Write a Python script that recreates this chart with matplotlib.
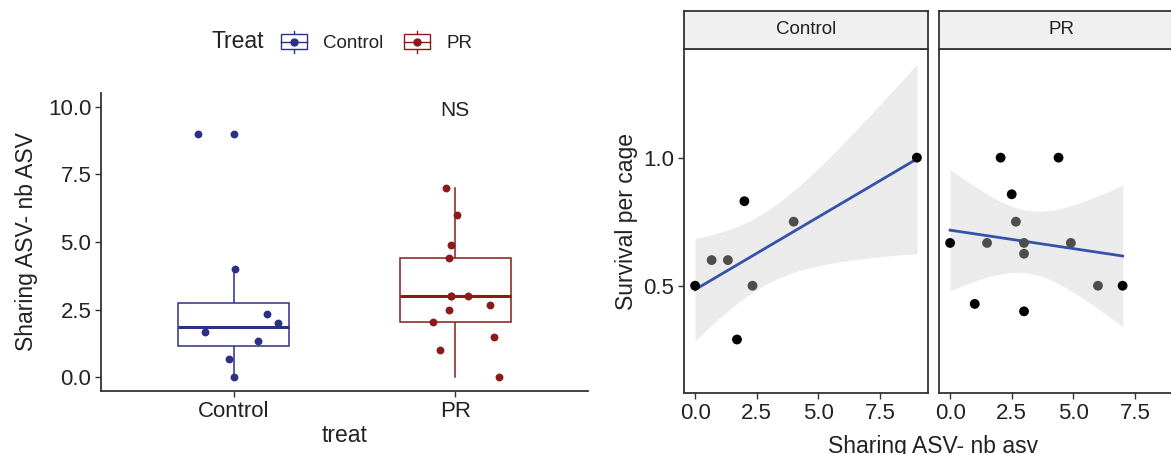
import numpy as np
import matplotlib
matplotlib.use("Agg")
import matplotlib.pyplot as plt
from matplotlib.patches import Patch, Rectangle
from matplotlib.lines import Line2D
from matplotlib.legend_handler import HandlerBase

plt.rcParams['font.family'] = ['Liberation Sans', 'DejaVu Sans']

# ---------- données du panneau gauche (boxplot + points jitter) ----------
groupes = ["Control", "PR"]
couleurs = ["#2D3184", "#8C1A1A"]

sharing_control = [9, 9, 4, 2.33, 2.0, 1.67, 1.33, 0.67, 0]
jitter_control = [-0.163, 0.0, 0.005, 0.15, 0.198, -0.13, 0.11, -0.02, 0.0]
sharing_pr = [7, 6, 4.9, 4.4, 3, 3, 3, 2.67, 2.5, 2.05, 1.5, 1.0, 0]
jitter_pr = [-0.041, 0.007, -0.019, -0.03, -0.021, 0.057, -0.021, 0.156,
             -0.028, -0.102, 0.177, -0.069, 0.197]

# statistiques des boîtes
q1 = [1.15, 2.05]
mediane = [1.85, 3.0]
q3 = [2.73, 4.4]
moust_bas = [0, 0]
moust_haut = [4, 7]

# ---------- données des facettes (survie ~ partage ASV) ----------
ctrl_x = [0, 0.67, 1.33, 1.7, 2.0, 2.33, 4.0, 9.0]
ctrl_y = [0.5, 0.6, 0.6, 0.29, 0.83, 0.5, 0.75, 1.0]
ctrl_noir = [1, 0, 0, 1, 1, 0, 0, 1]
pr_x = [0, 1.0, 1.5, 2.05, 2.5, 2.67, 3, 3, 3, 4.4, 4.9, 6, 7]
pr_y = [0.667, 0.429, 0.667, 1.0, 0.857, 0.75, 0.667, 0.625, 0.4, 1.0, 0.667, 0.5, 0.5]
pr_noir = [1, 1, 0, 1, 1, 0, 0, 0, 1, 1, 0, 0, 1]

t_quant = {6: 2.447, 11: 2.201}  # quantiles de Student à 97.5 %

texte = "#222222"
bord = "#333333"

fig = plt.figure(figsize=(11.71, 4.54), dpi=100)


# ---------- légende : petite boîte à moustache ----------
class CleBoite(HandlerBase):
    def create_artists(self, legend, orig_handle, xd, yd, width, height, fontsize, trans):
        c = orig_handle.get_edgecolor()
        cx = width / 2 - xd
        cy = height / 2 - yd
        h = height * 0.65
        art = [
            Line2D([cx, cx], [cy - height / 2, cy + height / 2], color=c, lw=1, transform=trans),
            Rectangle((-xd, cy - h / 2), width, h, facecolor="white", edgecolor=c, lw=1, transform=trans),
            Line2D([-xd, width - xd], [cy, cy], color=c, lw=1, transform=trans),
            Line2D([cx], [cy], marker="o", ms=5, color=c, transform=trans),
        ]
        return art


# ---------- panneau gauche ----------
ax = fig.add_axes([101 / 1171, 1 - 391 / 454, 487 / 1171, 298 / 454])
stats = []
for i in range(2):
    stats.append(dict(med=mediane[i], q1=q1[i], q3=q3[i],
                      whislo=moust_bas[i], whishi=moust_haut[i], fliers=[]))
bp = ax.bxp(stats, positions=[1, 2], widths=0.5, showcaps=False,
            showfliers=False, patch_artist=True)
for i, c in enumerate(couleurs):
    bp['boxes'][i].set(facecolor="white", edgecolor=c, lw=1.1, zorder=2)
    bp['medians'][i].set(color=c, lw=2.2, zorder=3)
    for w in bp['whiskers'][2 * i:2 * i + 2]:
        w.set(color=c, lw=1.1, zorder=1)

ax.scatter(1 + np.array(jitter_control), sharing_control, s=32, color=couleurs[0], zorder=4, lw=0)
ax.scatter(2 + np.array(jitter_pr), sharing_pr, s=32, color=couleurs[1], zorder=4, lw=0)
ax.text(2, 9.85, "NS", ha="center", va="center", fontsize=15, color=texte)

ax.set_xlim(0.4, 2.6)
ax.set_ylim(-0.5, 10.5)
ax.set_xticks([1, 2])
ax.set_xticklabels(groupes)
ax.set_yticks([0, 2.5, 5, 7.5, 10])
ax.set_yticklabels(["0.0", "2.5", "5.0", "7.5", "10.0"])
ax.set_xlabel("treat", fontsize=16.5, color=texte, labelpad=2)
ax.set_ylabel("Sharing ASV- nb ASV", fontsize=16.5, color=texte, labelpad=7)
for s in ["top", "right"]:
    ax.spines[s].set_visible(False)
for s in ["left", "bottom"]:
    ax.spines[s].set_color(bord)
    ax.spines[s].set_linewidth(1.3)
ax.tick_params(direction="out", length=4, width=1, color=bord, labelsize=16,
               labelcolor=texte, pad=3)

fig.text(211 / 1171, 1 - 41.7 / 454, "Treat", fontsize=16.5, color=texte, va="center", ha="left")
poignees = [Patch(edgecolor=c, facecolor="white") for c in couleurs]
fig.legend(poignees, groupes, handler_map={Patch: CleBoite()}, ncol=2, frameon=False,
           loc="center left", bbox_to_anchor=(281 / 1171, 1 - 41.7 / 454),
           fontsize=13.5, handlelength=1.4, handleheight=1.45, handletextpad=0.85,
           columnspacing=1.1, borderaxespad=0, borderpad=0, labelcolor=texte)

# ---------- facettes ----------
larg = 244 / 1171
bas = 1 - 393.3 / 454
haut = 344 / 454
strip_h = 38.6 / 454
facettes = [("Control", 684, ctrl_x, ctrl_y, ctrl_noir),
            ("PR", 939, pr_x, pr_y, pr_noir)]

for k, (nom, px, xs_d, ys_d, noir) in enumerate(facettes):
    a = fig.add_axes([px / 1171, bas, larg, haut])
    x = np.asarray(xs_d, float)
    y = np.asarray(ys_d, float)
    n = len(x)
    pente, orig = np.polyfit(x, y, 1)
    xg = np.linspace(x.min(), x.max(), 80)
    pred = orig + pente * xg
    res = y - (orig + pente * x)
    s = np.sqrt(np.sum(res ** 2) / (n - 2))
    se = s * np.sqrt(1 / n + (xg - x.mean()) ** 2 / np.sum((x - x.mean()) ** 2))
    tq = t_quant[n - 2]
    a.fill_between(xg, pred - tq * se, pred + tq * se, color="#EBEBEB", lw=0, zorder=1)
    a.plot(xg, pred, color="#3352AA", lw=2, zorder=2)
    cols = ["black" if v else "#4D4D4D" for v in noir]
    a.scatter(x, y, s=50, c=cols, lw=0, zorder=3)

    a.set_xlim(-0.45, 9.45)
    a.set_ylim(0.08, 1.423)
    a.set_xticks([0, 2.5, 5, 7.5])
    a.set_xticklabels(["0.0", "2.5", "5.0", "7.5"])
    a.set_yticks([0.5, 1.0])
    a.set_yticklabels(["0.5", "1.0"])
    for sp in a.spines.values():
        sp.set_color(bord)
        sp.set_linewidth(1.3)
    a.tick_params(direction="out", length=4, width=1, color=bord, labelsize=16,
                  labelcolor=texte, pad=3)
    if k == 0:
        a.set_ylabel("Survival per cage", fontsize=16.5, color=texte, labelpad=4)
    else:
        a.tick_params(axis="y", left=False, labelleft=False)

    st = fig.add_axes([px / 1171, bas + haut, larg, strip_h])
    st.set_facecolor("#F0F0F0")
    st.set_xticks([])
    st.set_yticks([])
    for sp in st.spines.values():
        sp.set_color(bord)
        sp.set_linewidth(1.3)
    st.text(0.5, 0.5, nom, transform=st.transAxes, ha="center", va="center",
            fontsize=13.5, color=texte)

# titre d'axe commun, coupé en bas comme sur l'original
fig.text(933 / 1171, 1 - 447 / 454, "Sharing ASV- nb asv", ha="center", va="center",
         fontsize=16.5, color=texte)

fig.savefig("out.png", dpi=100)
